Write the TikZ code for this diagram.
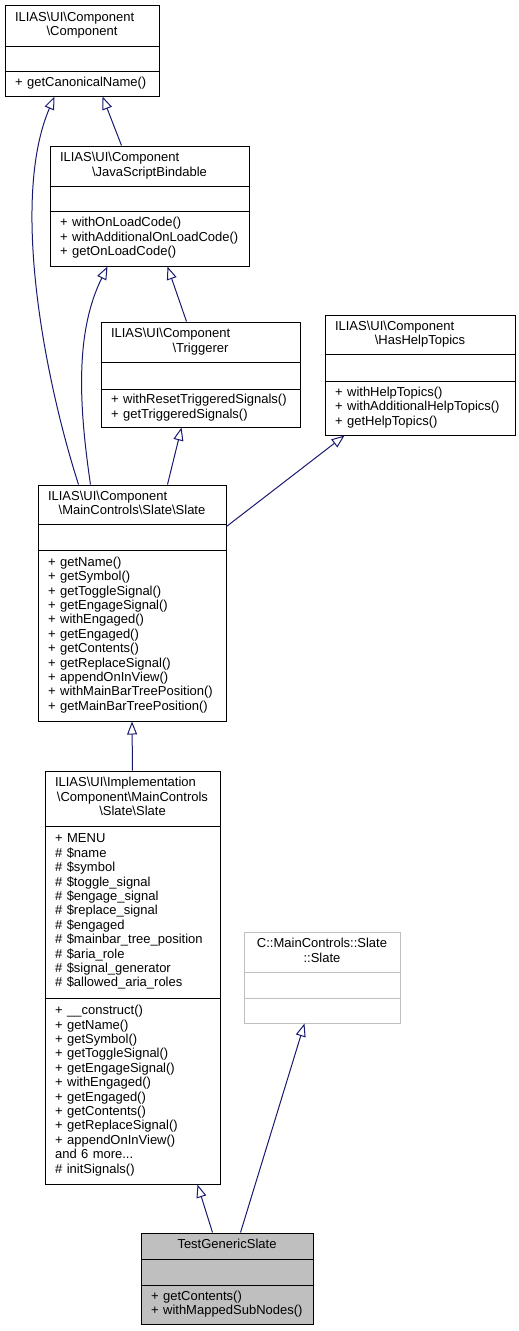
\documentclass[tikz,border=0pt]{standalone}
\usepackage{fontspec}
\setmainfont{Liberation Sans}
\usetikzlibrary{arrows.meta,fit}
\definecolor{edgeblue}{HTML}{191970}
\definecolor{extgrey}{HTML}{BFBFBF}
\newcommand{\bsl}{\textbackslash}

\begin{document}
\begin{tikzpicture}[x=1pt, y=-1pt,
    classbox/.style={draw, line width=1pt, inner sep=0pt, fill=white},
    sepline/.style={line width=1pt},
    classname/.style={inner sep=0pt, text width=#1, align=center,
      font=\fontsize{13}{14.4}\selectfont,
      execute at begin node=\strut, execute at end node=\strut},
    members/.style={inner sep=0pt, text width=#1, align=left, anchor=west,
      font=\fontsize{13}{14.4}\selectfont,
      execute at begin node=\strut, execute at end node=\strut},
    inherit/.style={edgeblue, line width=1pt,
      -{Triangle[open, length=13pt, width=10pt]}}]
   \useasboundingbox (0,0) rectangle (519,1331);

   % ILIAS\UI\Component\Component
   \node[classbox, fit={(5,5) (159,96)}] (comp) {};
   \draw[sepline] (comp.west |- 0,46) -- (comp.east |- 0,46);
   \draw[sepline] (comp.west |- 0,71) -- (comp.east |- 0,71);
   \node[classname=134] (comp-t) at (82,25.5)
     {\makebox[\hsize][l]{ILIAS\bsl UI\bsl Component}\\\bsl Component};
   \node[members=140] (comp-m) at (15,83.5) {+ getCanonicalName()};

   % ILIAS\UI\Component\JavaScriptBindable
   \node[classbox, fit={(50,146) (249,266)}] (jsb) {};
   \draw[sepline] (jsb.west |- 0,186) -- (jsb.east |- 0,186);
   \draw[sepline] (jsb.west |- 0,211) -- (jsb.east |- 0,211);
   \node[classname=179] (jsb-t) at (149.5,166)
     {\makebox[\hsize][l]{ILIAS\bsl UI\bsl Component}\\\bsl JavaScriptBindable};
   \node[members=185] (jsb-m) at (60,238.5)
     {+ withOnLoadCode()\\+ withAdditionalOnLoadCode()\\+ getOnLoadCode()};

   % ILIAS\UI\Component\Triggerer
   \node[classbox, fit={(101,322) (300,427)}] (trig) {};
   \draw[sepline] (trig.west |- 0,362) -- (trig.east |- 0,362);
   \draw[sepline] (trig.west |- 0,389) -- (trig.east |- 0,389);
   \node[classname=179] (trig-t) at (200.5,342)
     {\makebox[\hsize][l]{ILIAS\bsl UI\bsl Component}\\\bsl Triggerer};
   \node[members=185] (trig-m) at (111,408)
     {+ withResetTriggeredSignals()\\+ getTriggeredSignals()};

   % ILIAS\UI\Component\HasHelpTopics
   \node[classbox, fit={(325,315) (515,435)}] (help) {};
   \draw[sepline] (help.west |- 0,354) -- (help.east |- 0,354);
   \draw[sepline] (help.west |- 0,381) -- (help.east |- 0,381);
   \node[classname=170] (help-t) at (420,334.5)
     {\makebox[\hsize][l]{ILIAS\bsl UI\bsl Component}\\\bsl HasHelpTopics};
   \node[members=176] (help-m) at (335,408)
     {+ withHelpTopics()\\+ withAdditionalHelpTopics()\\+ getHelpTopics()};

   % ILIAS\UI\Component\MainControls\Slate\Slate
   \node[classbox, fit={(38,485) (226,721)}] (slate) {};
   \draw[sepline] (slate.west |- 0,524) -- (slate.east |- 0,524);
   \draw[sepline] (slate.west |- 0,550) -- (slate.east |- 0,550);
   \node[classname=168] (slate-t) at (132,504.5)
     {\makebox[\hsize][l]{ILIAS\bsl UI\bsl Component}\\\bsl MainControls\bsl Slate\bsl Slate};
   \node[members=174] (slate-m) at (48,635.5)
     {+ getName()\\+ getSymbol()\\+ getToggleSignal()\\+ getEngageSignal()\\
      + withEngaged()\\+ getEngaged()\\+ getContents()\\+ getReplaceSignal()\\
      + appendOnInView()\\+ withMainBarTreePosition()\\+ getMainBarTreePosition()};

   % ILIAS\UI\Implementation\Component\MainControls\Slate\Slate
   \node[classbox, fit={(45,771) (220,1184)}] (impl) {};
   \draw[sepline] (impl.west |- 0,826) -- (impl.east |- 0,826);
   \draw[sepline] (impl.west |- 0,998) -- (impl.east |- 0,998);
   \node[classname=155] (impl-t) at (132.5,798.5)
     {\makebox[\hsize][l]{ILIAS\bsl UI\bsl Implementation}\\\bsl Component\bsl MainControls\\\bsl Slate\bsl Slate};
   \node[members=161] (impl-a) at (55,912)
     {+ MENU\\\# \$name\\\# \$symbol\\\# \$toggle\_signal\\\# \$engage\_signal\\
      \# \$replace\_signal\\\# \$engaged\\\# \$mainbar\_tree\_position\\
      \# \$aria\_role\\\# \$signal\_generator\\\# \$allowed\_aria\_roles};
   \node[members=161] (impl-m) at (55,1091)
     {+ \_\_construct()\\+ getName()\\+ getSymbol()\\+ getToggleSignal()\\
      + getEngageSignal()\\+ withEngaged()\\+ getEngaged()\\+ getContents()\\
      + getReplaceSignal()\\+ appendOnInView()\\and 6 more...\\\# initSignals()};

   % C::MainControls::Slate::Slate
   \node[classbox, draw=extgrey, fit={(244,932) (400,1023)}] (cslate) {};
   \draw[sepline, extgrey] (cslate.west |- 0,972) -- (cslate.east |- 0,972);
   \draw[sepline, extgrey] (cslate.west |- 0,998) -- (cslate.east |- 0,998);
   \node[classname=150] (cslate-t) at (322,952) {C::MainControls::Slate\\::Slate};

   % TestGenericSlate
   \node[classbox, fill=extgrey, fit={(141,1233) (313,1324)}] (tgs) {};
   \draw[sepline] (tgs.west |- 0,1259) -- (tgs.east |- 0,1259);
   \draw[sepline] (tgs.west |- 0,1285) -- (tgs.east |- 0,1285);
   \node[classname=152] (tgs-t) at (227,1246) {TestGenericSlate};
   \node[members=158] (tgs-m) at (151,1304.5)
     {+ getContents()\\+ withMappedSubNodes()};

   % inheritance
   \draw[inherit] ([xshift=41pt]slate.north west) .. controls (45,380) and (10,200) .. ([xshift=50pt]comp.south west);
   \draw[inherit] ([xshift=72pt]jsb.north west) -- ([xshift=98pt]comp.south west);
   \draw[inherit] ([xshift=53pt]slate.north west) .. controls (78,400) and (76,330) .. ([xshift=58pt]jsb.south west);
   \draw[inherit] ([xshift=86pt]trig.north west) -- ([xshift=118pt]jsb.south west);
   \draw[inherit] ([xshift=130pt]slate.north west) -- ([xshift=81pt]trig.south west);
   \draw[inherit] ([yshift=-42pt]slate.north east) -- ([xshift=20pt]help.south west);
   \draw[inherit] (impl.north) -- (slate.south);
   \draw[inherit] ([xshift=72pt]tgs.north west) -- ([xshift=153pt]impl.south west);
   \draw[inherit] ([xshift=100pt]tgs.north west) -- ([xshift=61pt]cslate.south west);
 \end{tikzpicture}
\end{document}
